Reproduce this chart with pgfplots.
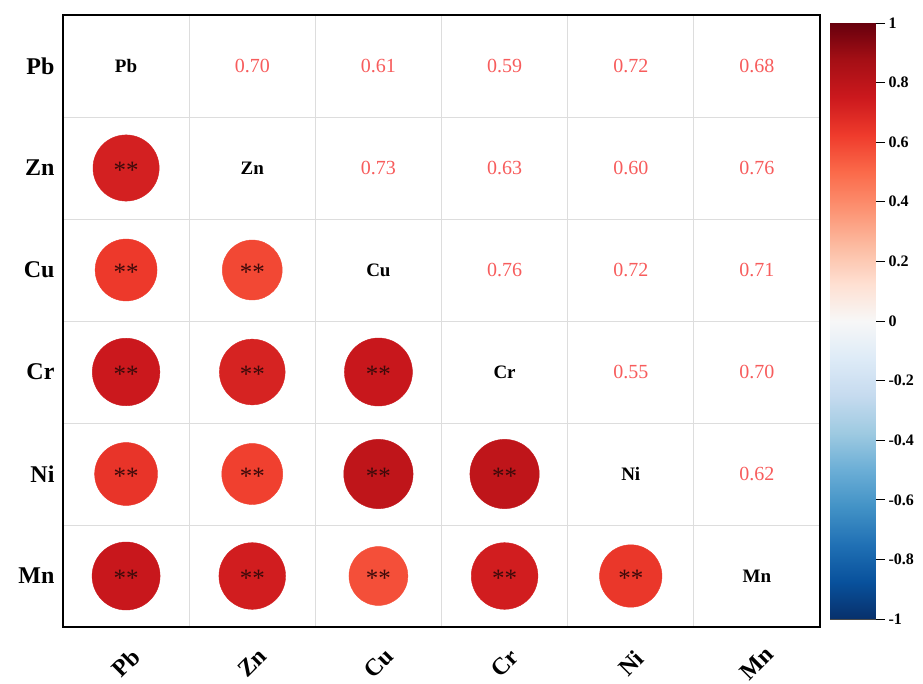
\documentclass[border=0pt]{standalone}
\usepackage{pgfplots}
\pgfplotsset{compat=1.18}
\usepackage{fontspec}
\setmainfont{Liberation Serif}

\definecolor{gridgray}{HTML}{DDDDDD}
\definecolor{numred}{HTML}{F75C5C}
\definecolor{stardark}{HTML}{3C0A0A}

% blue-white-red scale for coefficients in [-1, 1]
\pgfplotsset{
  colormap={corr}{
    rgb255(0)=(8,48,107)
    rgb255(1)=(8,81,156)
    rgb255(2)=(33,113,181)
    rgb255(3)=(66,146,198)
    rgb255(4)=(107,174,214)
    rgb255(5)=(158,202,225)
    rgb255(6)=(198,219,239)
    rgb255(7)=(222,235,247)
    rgb255(8)=(247,247,247)
    rgb255(9)=(254,224,210)
    rgb255(10)=(252,187,161)
    rgb255(11)=(252,146,114)
    rgb255(12)=(251,106,74)
    rgb255(13)=(239,59,44)
    rgb255(14)=(203,24,29)
    rgb255(15)=(165,15,21)
    rgb255(16)=(103,0,13)
  },
}

% lower triangle: circles (column, row, r)
\pgfplotstableread{
c row r
1 2 0.72
1 3 0.63
2 3 0.59
1 4 0.75
2 4 0.71
3 4 0.76
1 5 0.65
2 5 0.61
3 5 0.79
4 5 0.79
1 6 0.76
2 6 0.73
3 6 0.57
4 6 0.73
5 6 0.64
}\lowertri

% upper triangle: printed coefficients
\pgfplotstableread{
c row v
2 1 0.70
3 1 0.61
4 1 0.59
5 1 0.72
6 1 0.68
3 2 0.73
4 2 0.63
5 2 0.60
6 2 0.76
4 3 0.76
5 3 0.72
6 3 0.71
5 4 0.55
6 4 0.70
6 5 0.62
}\uppertri

% diagonal names
\pgfplotstableread{
c row name
1 1 Pb
2 2 Zn
3 3 Cu
4 4 Cr
5 5 Ni
6 6 Mn
}\diagnames

\begin{document}
\begin{tikzpicture}
\begin{axis}[
  at={(0,0)}, anchor=south west,
  scale only axis, width=757pt, height=612pt,
  xmin=0.5, xmax=6.5, ymin=0.5, ymax=6.5, y dir=reverse,
  xtick={1,2,3,4,5,6}, ytick={1,2,3,4,5,6},
  xticklabels={Pb,Zn,Cu,Cr,Ni,Mn},
  yticklabels={Pb,Zn,Cu,Cr,Ni,Mn},
  major tick length=0pt, minor tick length=0pt,
  minor xtick={1.5,2.5,3.5,4.5,5.5},
  minor ytick={1.5,2.5,3.5,4.5,5.5},
  xminorgrids, yminorgrids,
  minor grid style={gridgray, line width=0.8pt},
  axis line style={black, line width=2pt},
  ticklabel style={font=\fontsize{24}{28}\selectfont\bfseries},
  xticklabel style={rotate=45, anchor=center},
  xticklabel shift=36pt,
  yticklabel shift=5pt,
  colormap name=corr,
  point meta min=-1, point meta max=1,
]
% coloured circles, area proportional to r
\addplot[scatter, only marks, mark=*, point meta=explicit,
  scatter/use mapped color={draw=mapped color, fill=mapped color},
  visualization depends on={\thisrow{r} \as \rv},
  scatter/@pre marker code/.append style={/tikz/mark size={39*sqrt(\rv)}}]
  table[x=c, y=row, meta=r] {\lowertri};

% significance stars
\addplot[only marks, mark=none, nodes near coords={**},
  every node near coord/.style={anchor=center, text=stardark,
    font=\fontsize{25}{28}\selectfont, yshift=-2pt}]
  table[x=c, y=row] {\lowertri};

% coefficients
\addplot[only marks, mark=none, point meta=explicit symbolic, nodes near coords,
  every node near coord/.style={anchor=center, text=numred,
    font=\fontsize{20}{24}\selectfont}]
  table[x=c, y=row, meta=v] {\uppertri};

% variable names on the diagonal
\addplot[only marks, mark=none, point meta=explicit symbolic, nodes near coords,
  every node near coord/.style={anchor=center, text=black,
    font=\fontsize{19}{22}\selectfont\bfseries}]
  table[x=c, y=row, meta=name] {\diagnames};
\end{axis}

% colour key
\begin{axis}[
  at={(767pt,8pt)}, anchor=south west,
  scale only axis, width=45pt, height=596pt,
  xmin=0, xmax=1, ymin=-1, ymax=1,
  xtick=\empty,
  ytick={-1,-0.8,-0.6,-0.4,-0.2,0,0.2,0.4,0.6,0.8,1},
  yticklabels={-1,-0.8,-0.6,-0.4,-0.2,0,0.2,0.4,0.6,0.8,1},
  ytick pos=right, yticklabel pos=right,
  tick align=outside, major tick length=10pt,
  major tick style={black, line width=0.8pt},
  yticklabel style={font=\fontsize{16}{18}\selectfont\bfseries},
  axis line style={black!70, line width=0.6pt},
  colormap name=corr,
  point meta min=-1, point meta max=1,
]
\addplot[surf, shader=interp, point meta=y] coordinates {
(0,-1) (1,-1)

(0,-0.875) (1,-0.875)

(0,-0.75) (1,-0.75)

(0,-0.625) (1,-0.625)

(0,-0.5) (1,-0.5)

(0,-0.375) (1,-0.375)

(0,-0.25) (1,-0.25)

(0,-0.125) (1,-0.125)

(0,0) (1,0)

(0,0.125) (1,0.125)

(0,0.25) (1,0.25)

(0,0.375) (1,0.375)

(0,0.5) (1,0.5)

(0,0.625) (1,0.625)

(0,0.75) (1,0.75)

(0,0.875) (1,0.875)

(0,1) (1,1)
};
\end{axis}
\pgfresetboundingbox
\path (-63pt,-57pt) rectangle (860pt,627pt);
\end{tikzpicture}
\end{document}
